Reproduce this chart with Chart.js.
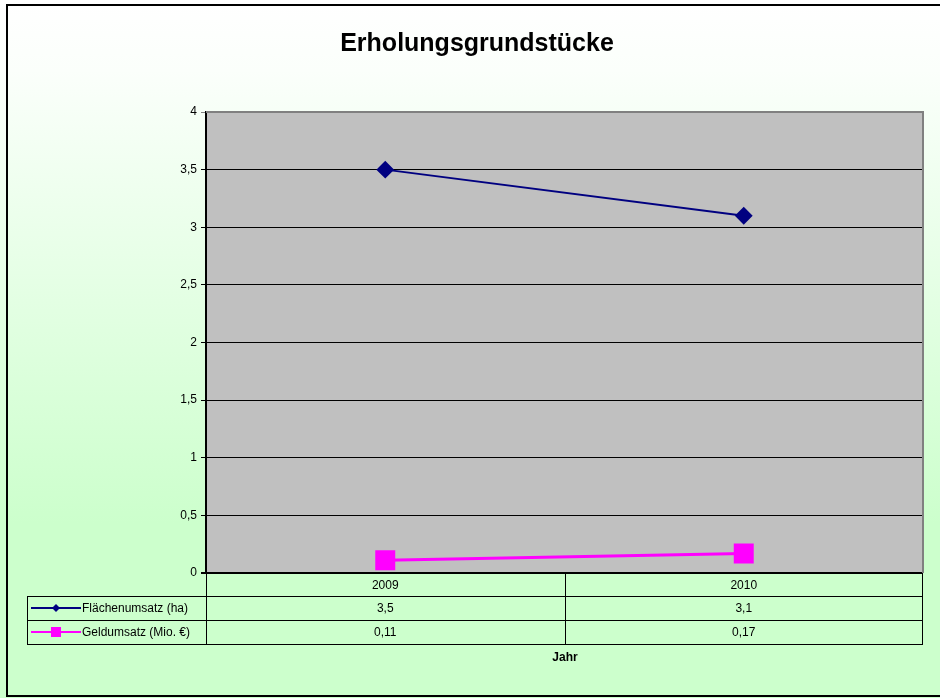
<!DOCTYPE html>
<html><head><meta charset="utf-8">
<script src="https://cdn.jsdelivr.net/npm/chart.js@4.4.1/dist/chart.umd.min.js"></script>
<style>html,body{margin:0;padding:0;background:#fff;}canvas{display:block}</style>
</head><body>
<canvas id="c" width="940" height="698"></canvas>
<script>
const chartTitle = 'Erholungsgrundstücke';
const xAxisTitle = 'Jahr';
const categories = ['2009', '2010'];
const seriesNames = ['Flächenumsatz (ha)', 'Geldumsatz (Mio. €)'];
const flaechenumsatz = [3.5, 3.1];
const geldumsatz = [0.11, 0.17];
const yMin = 0, yMax = 4, yStep = 0.5;

const seriesColors = ['#000080', '#ff00ff'];
const seriesData = [flaechenumsatz, geldumsatz];
const fmt = v => String(v).replace('.', ',');
const FONT = '"Liberation Sans", Arial, sans-serif';

const bgPlugin = {
  id: 'bg',
  beforeDraw(chart) {
    const {ctx, width, height, chartArea: a} = chart;
    ctx.save();
    const g = ctx.createLinearGradient(0, 0, 0, height);
    g.addColorStop(0, '#ffffff');
    g.addColorStop(0.1, '#fbfffb');
    g.addColorStop(0.75, '#ccffcc');
    g.addColorStop(1, '#ccffcc');
    ctx.fillStyle = g;
    ctx.fillRect(0, 0, width, height);
    ctx.fillStyle = '#c0c0c0';
    ctx.fillRect(a.left, a.top, a.right - a.left, a.bottom - a.top);
    ctx.restore();
  },
  beforeDatasetsDraw(chart) {
    const {ctx, chartArea: a} = chart;
    ctx.save();
    ctx.strokeStyle = '#808080';
    ctx.lineWidth = 2;
    ctx.beginPath();
    ctx.moveTo(a.left, a.top); ctx.lineTo(a.right, a.top); ctx.lineTo(a.right, a.bottom);
    ctx.stroke();
    ctx.restore();
  },
  afterDraw(chart) {
    const {ctx, chartArea: a, width} = chart;
    const xs = chart.scales.x;
    ctx.save();
    // title
    ctx.fillStyle = '#000';
    ctx.font = 'bold 25px ' + FONT;
    ctx.textAlign = 'center';
    ctx.textBaseline = 'middle';
    ctx.fillText(chartTitle, 477, 44);

    // data table
    const rowH = 24;
    const tLeft = 27;
    const r0 = a.bottom, r1 = r0 + 23, r2 = r1 + 24, r3 = r2 + 24;
    ctx.strokeStyle = '#000';
    ctx.lineWidth = 1;
    ctx.beginPath();
    // horizontal lines
    ctx.moveTo(tLeft, r1 + 0.5); ctx.lineTo(a.right, r1 + 0.5);
    ctx.moveTo(tLeft, r2 + 0.5); ctx.lineTo(a.right, r2 + 0.5);
    ctx.moveTo(tLeft, r3 + 0.5); ctx.lineTo(a.right, r3 + 0.5);
    // vertical lines
    ctx.moveTo(tLeft + 0.5, r1); ctx.lineTo(tLeft + 0.5, r3);
    ctx.moveTo(a.left + 0.5, r0); ctx.lineTo(a.left + 0.5, r3);
    ctx.moveTo(a.right - 0.5, r0); ctx.lineTo(a.right - 0.5, r3);
    for (let i = 0; i < categories.length - 1; i++) {
      const xm = Math.round((xs.getPixelForValue(i) + xs.getPixelForValue(i + 1)) / 2) + 0.5;
      ctx.moveTo(xm, r0); ctx.lineTo(xm, r3);
    }
    ctx.stroke();

    ctx.font = '12px ' + FONT;
    ctx.textAlign = 'center';
    ctx.textBaseline = 'middle';
    categories.forEach((c, i) => ctx.fillText(c, xs.getPixelForValue(i), (r0 + r1) / 2 + 1));
    seriesData.forEach((arr, s) => {
      const yc = (s === 0 ? (r1 + r2) / 2 : (r2 + r3) / 2) + 1;
      arr.forEach((v, i) => ctx.fillText(fmt(v), xs.getPixelForValue(i), yc));
      // legend key
      ctx.strokeStyle = seriesColors[s];
      ctx.lineWidth = 2;
      ctx.beginPath(); ctx.moveTo(31, yc - 1); ctx.lineTo(81, yc - 1); ctx.stroke();
      ctx.fillStyle = seriesColors[s];
      if (s === 0) {
        ctx.beginPath();
        ctx.moveTo(56, yc - 5); ctx.lineTo(60, yc - 1); ctx.lineTo(56, yc + 3); ctx.lineTo(52, yc - 1);
        ctx.closePath(); ctx.fill();
      } else {
        ctx.fillRect(51, yc - 6, 10, 10);
      }
      ctx.fillStyle = '#000';
      ctx.textAlign = 'left';
      ctx.fillText(seriesNames[s], 82, yc);
      ctx.textAlign = 'center';
    });

    // x axis title
    ctx.font = 'bold 12px ' + FONT;
    ctx.fillText(xAxisTitle, 565, 658);

    // outer border
    ctx.strokeStyle = '#000';
    ctx.lineWidth = 2;
    ctx.strokeRect(7, 5, width, 691);
    ctx.restore();
  }
};

new Chart(document.getElementById('c'), {
  type: 'line',
  data: {
    labels: categories,
    datasets: [
      {
        label: seriesNames[0], data: flaechenumsatz,
        borderColor: seriesColors[0], backgroundColor: seriesColors[0],
        borderWidth: 2, pointStyle: 'rectRot', pointRadius: 7.5, pointHoverRadius: 7.5,
        tension: 0, clip: false
      },
      {
        label: seriesNames[1], data: geldumsatz,
        borderColor: seriesColors[1], backgroundColor: seriesColors[1],
        borderWidth: 3, pointStyle: 'rect', pointRadius: 12, pointHoverRadius: 12,
        tension: 0, clip: false
      }
    ]
  },
  options: {
    responsive: false,
    devicePixelRatio: 1,
    animation: false,
    events: [],
    layout: { padding: { left: 156, right: 17, top: 112, bottom: 125 } },
    plugins: { legend: { display: false }, title: { display: false }, tooltip: { enabled: false } },
    scales: {
      x: { type: 'category', offset: true, display: false },
      y: {
        min: yMin, max: yMax,
        afterFit: s => { s.width = 50; },
        ticks: {
          stepSize: yStep, padding: 4, color: '#000',
          font: { family: FONT, size: 12 },
          callback: v => fmt(v)
        },
        grid: {
          color: c => (c.tick && c.tick.value === yMax) ? '#808080' : '#000',
          lineWidth: c => (c.tick && c.tick.value === yMin) ? 2 : 1,
          tickLength: 5,
          drawTicks: true
        },
        border: { color: '#000', width: 2 }
      }
    }
  },
  plugins: [bgPlugin]
});
</script>
</body></html>
